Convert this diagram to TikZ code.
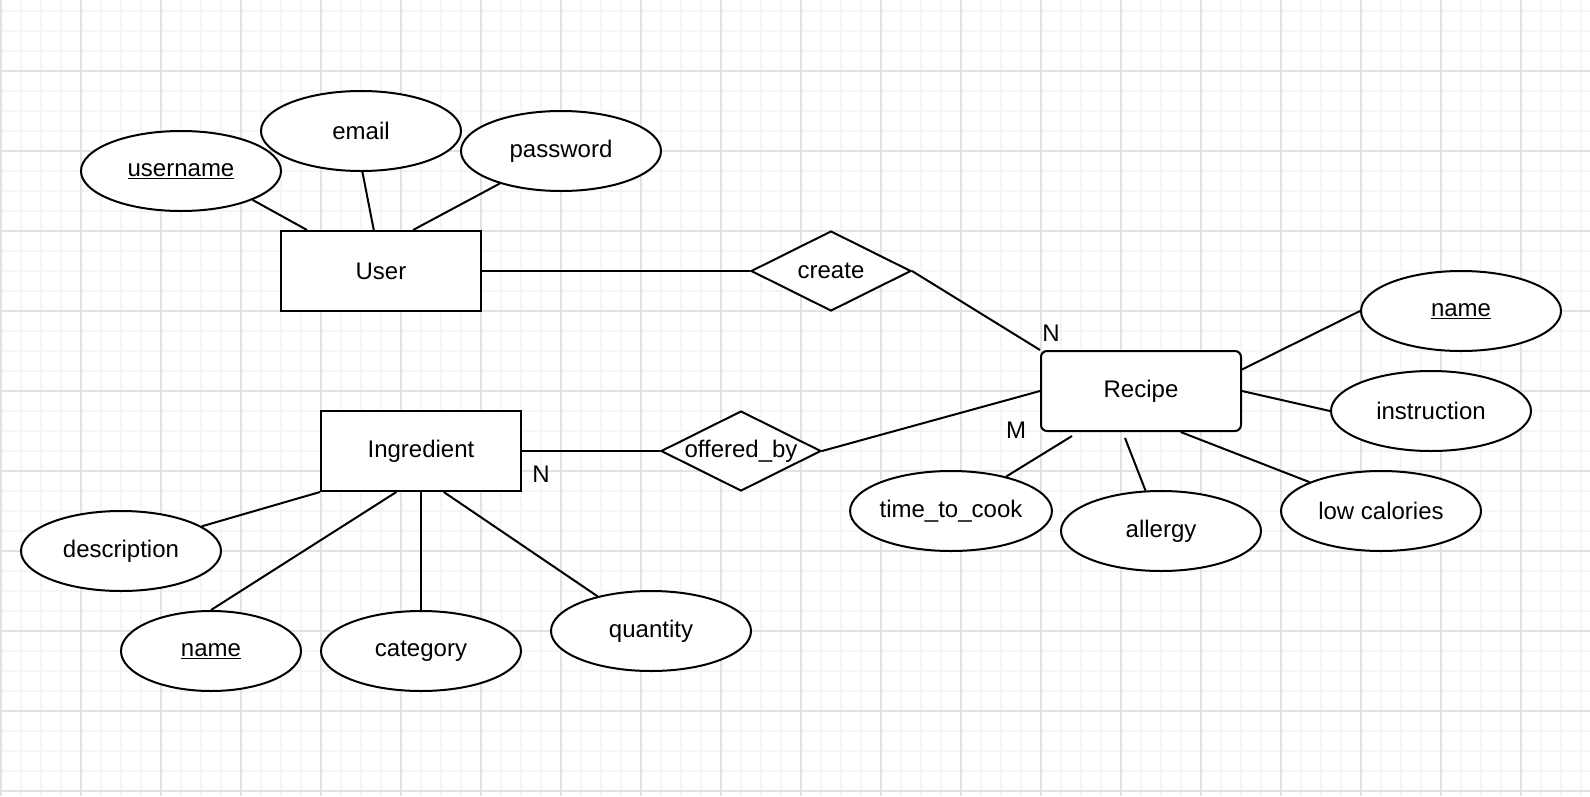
\documentclass[tikz,border=0pt]{standalone}
\usepackage{fontspec}
\setmainfont{Liberation Sans}
\usetikzlibrary{shapes.geometric,calc}
\definecolor{gridminor}{RGB}{245,245,245}
\definecolor{gridmajor}{RGB}{226,226,226}
\begin{document}
\begin{tikzpicture}[x=1pt,y=-1pt,
  every node/.style={font=\fontsize{24}{28}\selectfont},
  entity/.style={draw, line width=2pt, minimum width=200pt, minimum height=80pt, inner sep=0pt, fill=white},
  attr/.style={ellipse, draw, line width=2pt, minimum width=200pt, minimum height=80pt, inner sep=0pt, fill=white},
  rel/.style={diamond, aspect=2, draw, line width=2pt, minimum width=160pt, minimum height=80pt, inner sep=0pt, fill=white},
  conn/.style={line width=2pt},
  lbl/.style={inner sep=0pt},
  minorline/.style={draw=gridminor, line width=1.2pt},
  majorline/.style={draw=gridmajor, line width=1.2pt}]
\useasboundingbox (0,0) rectangle (1590,796);
\fill[white] (0,0) rectangle (1590,796);
% grid
\foreach \gx in {1,21,...,1581} \draw[minorline] (\gx,0) -- (\gx,796);
\foreach \gy in {11,31,...,791} \draw[minorline] (0,\gy) -- (1590,\gy);
\foreach \gx in {1,81,...,1581} \draw[majorline] (\gx,0) -- (\gx,796);
\foreach \gy in {71,151,...,791} \draw[majorline] (0,\gy) -- (1590,\gy);
% entities
\node[entity] (User) at (381,271) {User};
\node[entity, rounded corners=6pt] (Recipe) at (1141,391) {Recipe};
\node[entity] (Ingredient) at (421,451) {Ingredient};
% relationships
\node[rel] (create) at (831,271) {create};
\node[rel] (offered) at (741,451) {offered\_by};
% attributes
\node[attr] (username) at (181,171) {\underline{username}};
\node[attr] (email) at (361,131) {email};
\node[attr] (password) at (561,151) {password};
\node[attr] (rname) at (1461,311) {\underline{name}};
\node[attr] (instruction) at (1431,411) {instruction};
\node[attr] (lowcal) at (1381,511) {low calories};
\node[attr] (allergy) at (1161,531) {allergy};
\node[attr] (timecook) at (951,511) {time\_to\_cook};
\node[attr] (description) at (121,551) {description};
\node[attr, minimum width=180pt] (iname) at (211,651) {\underline{name}};
\node[attr] (category) at (421,651) {category};
\node[attr] (quantity) at (651,631) {quantity};
% free ends
\coordinate (rA) at ($(Recipe.south)+(-16,6)$);
\coordinate (rT) at ($(Recipe.south west)+(32,4)$);
% connectors
\draw[conn] (username.-22) -- (User.151);
\draw[conn] (email.-88) -- (User.100);
\draw[conn] (password.208) -- (User.52);
\draw[conn] (User.east) -- (create.west);
\draw[conn] (create.east) -- (Recipe.north west);
\draw[conn] (Recipe.12) -- (rname.west);
\draw[conn] (Recipe.east) -- (instruction.west);
\draw[conn] (Recipe.-46) -- (lowcal.158);
\draw[conn] (rA) -- (allergy.111);
\draw[conn] (rT) -- (timecook.32);
\draw[conn] (Recipe.west) -- (offered.east);
\draw[conn] (offered.west) -- (Ingredient.east);
\draw[conn] (Ingredient.south west) -- (description.17);
\draw[conn] (Ingredient.239) -- (iname.north);
\draw[conn] (Ingredient.south) -- (category.north);
\draw[conn] (Ingredient.-61) -- (quantity.147);
% cardinality labels
\node[lbl] (nR) at (1051,333) {N};
\node[lbl] (mR) at (1016,430) {M};
\node[lbl] (nI) at (541,474) {N};
\end{tikzpicture}
\end{document}
